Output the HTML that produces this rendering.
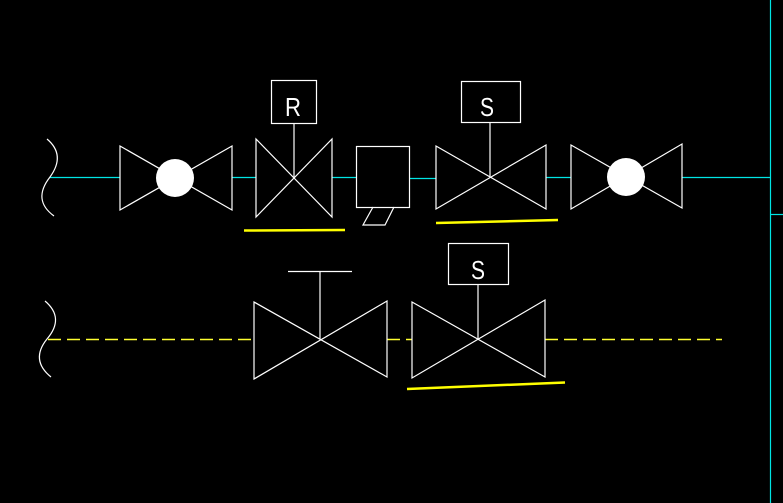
<!DOCTYPE html>
<html><head><style>html,body{margin:0;padding:0;background:#000;}svg{display:block}</style></head>
<body>
<svg width="783" height="503" viewBox="0 0 783 503" xmlns="http://www.w3.org/2000/svg">
<rect width="783" height="503" fill="#000"/>
<g stroke="#00e5e5" stroke-width="1.2" fill="none">
<line x1="50" y1="177.5" x2="120" y2="177.5"/>
<line x1="232" y1="177.5" x2="256" y2="177.5"/>
<line x1="332" y1="177.5" x2="356" y2="177.5"/>
<line x1="409" y1="178.5" x2="436" y2="178.5"/>
<line x1="546" y1="177.5" x2="571" y2="177.5"/>
<line x1="682" y1="177.5" x2="770" y2="177.5"/>
<line x1="770.5" y1="0" x2="770.5" y2="503"/>
<line x1="771" y1="214.5" x2="783" y2="214.5"/>
</g>
<g stroke="#ffff30" stroke-width="1.4" fill="none" stroke-dasharray="13 6">
<line x1="48" y1="339.5" x2="254" y2="339.5"/>
<line x1="387" y1="339.5" x2="412" y2="339.5"/>
<line x1="545" y1="339.5" x2="722" y2="339.5"/>
</g>
<g stroke="#ffff00" stroke-width="2.5" fill="none">
<line x1="244" y1="230.5" x2="345" y2="230"/>
<line x1="436" y1="223" x2="558" y2="220"/>
<line x1="407" y1="389" x2="565" y2="382.5"/>
</g>
<g stroke="#fff" stroke-width="1.2" fill="none">
<path d="M47 139 Q66 155 50 177 Q32 200 54 216"/>
<path d="M45 301 Q65 318 47 339 Q30 360 51 377"/>
<!-- valve 1 -->
<path d="M120 146 L120 210 L232 146 L232 210 Z"/>
<!-- R valve -->
<path d="M256 139 L256 217 L332 139 L332 217 Z"/>
<line x1="294" y1="123" x2="294" y2="178"/>
<rect x="271.5" y="80.5" width="45" height="43"/>
<!-- box -->
<rect x="356.5" y="146.5" width="53" height="61"/>
<path d="M373 207 L363 225 L385 225 L394 207"/>
<!-- S valve -->
<path d="M436 146 L436 209 L546 145 L546 209 Z"/>
<line x1="490" y1="122" x2="490" y2="178"/>
<rect x="461.5" y="81.5" width="59" height="41"/>
<!-- valve 4 -->
<path d="M571 145 L571 209 L682 144 L682 208 Z"/>
<!-- bottom A -->
<path d="M254 302 L254 379 L387 301 L387 377 Z"/>
<line x1="320" y1="271" x2="320" y2="339"/>
<line x1="288" y1="271.5" x2="352" y2="271.5"/>
<!-- bottom B -->
<path d="M412 302 L412 378 L545 300 L545 377 Z"/>
<line x1="478" y1="284" x2="478" y2="339"/>
<rect x="448.5" y="243.5" width="60" height="41"/>
</g>
<circle cx="175" cy="178" r="19" fill="#fff"/>
<circle cx="626" cy="177" r="19" fill="#fff"/>
<g fill="#fff" font-family="Liberation Sans, sans-serif" font-size="26" font-weight="300" text-anchor="middle">
<text x="293" y="116" textLength="16" lengthAdjust="spacingAndGlyphs">R</text>
<text x="487" y="116" textLength="14" lengthAdjust="spacingAndGlyphs">S</text>
<text x="478" y="279" textLength="14" lengthAdjust="spacingAndGlyphs">S</text>
</g>
</svg>
</body></html>
